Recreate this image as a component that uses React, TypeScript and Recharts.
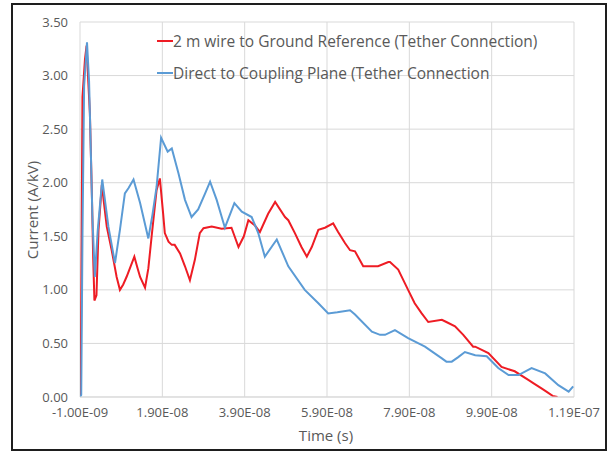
import { LineChart, Line, XAxis, YAxis, CartesianGrid, Legend } from "recharts";

// time in ns, current in A/kV
const redTime = [
  -1, -0.8, -0.4, 0.2, 0.6, 1.0, 1.4, 1.9, 2.2, 2.5, 3.0, 3.5, 4.3, 5.5, 6.7, 7.9, 8.7,
  9.5, 10.3, 11.3, 12.2, 13.0, 13.6, 14.8, 15.6, 16.4, 17.6, 18.4, 19.2, 19.6, 20.5, 21.3,
  22.0, 23.3, 24.5, 25.7, 26.9, 28.1, 29.0, 31.0, 33.4, 35.8, 37.5, 38.8, 39.9, 41.5, 42.7,
  44.7, 46.4, 48.8, 49.6, 51.2, 52.8, 54.1, 55.3, 56.9, 58.5, 60.5, 61.7, 63.4, 64.6, 65.8,
  67.8, 71.4, 73.9, 74.3, 76.3, 78.7, 80.3, 82.0, 83.6, 86.9, 88.0, 90.1, 92.1, 94.5, 95.0,
  98.2, 101.4, 104.6, 107.9, 109.1, 111.1, 112.3, 113.8, 115.0,
];
const redCurrent = [
  0.0, 0.28, 2.8, 3.15, 3.28, 2.95, 2.65, 1.87, 1.3, 0.9, 0.95, 1.56, 1.98, 1.59, 1.37, 1.12, 1.0,
  1.05, 1.12, 1.22, 1.31, 1.2, 1.12, 1.02, 1.2, 1.5, 1.93, 2.04, 1.71, 1.53, 1.45, 1.42,
  1.42, 1.34, 1.22, 1.09, 1.28, 1.53, 1.575, 1.59, 1.57, 1.58, 1.4, 1.5, 1.65, 1.6, 1.54,
  1.71, 1.82, 1.68, 1.65, 1.53, 1.4, 1.31, 1.4, 1.56, 1.58, 1.62, 1.54, 1.435, 1.37, 1.36,
  1.22, 1.22, 1.26, 1.26, 1.19, 1.0, 0.875, 0.78, 0.7, 0.72, 0.7, 0.66, 0.58, 0.47, 0.47,
  0.41, 0.28, 0.24, 0.16, 0.13, 0.08, 0.05, 0.01, 0.0,
];

const blueTime = [
  -1, -0.7, -0.4, 0.0, 0.7, 1.2, 1.5, 2.0, 2.6, 3.3, 4.4, 5.9, 7.5, 8.7, 9.9, 10.8, 12.0,
  13.6, 15.6, 16.6, 17.6, 18.7, 20.3, 21.3, 22.9, 24.5, 26.1, 27.7, 29.4, 30.6, 32.2, 34.2,
  36.5, 38.3, 40.7, 42.3, 43.9, 46.8, 49.6, 53.6, 56.9, 59.3, 61.5, 64.6, 65.8, 69.9, 71.9,
  73.1, 75.5, 78.7, 82.8, 86.9, 88.0, 89.3, 90.8, 92.5, 95.0, 97.8, 100.6, 103.1, 105.5,
  108.7, 112.0, 115.2, 117.7, 118.8,
];
const blueCurrent = [
  0.0, 0.02, 1.5, 2.9, 3.31, 2.95, 2.5, 1.7, 1.12, 1.55, 2.03, 1.59, 1.25, 1.56, 1.9, 1.95, 2.03,
  1.81, 1.48, 1.7, 1.96, 2.42, 2.29, 2.32, 2.09, 1.84, 1.68, 1.75, 1.9, 2.01, 1.84, 1.58,
  1.81, 1.73, 1.68, 1.53, 1.31, 1.47, 1.22, 1.0, 0.875, 0.78, 0.79, 0.81, 0.77, 0.61, 0.58,
  0.58, 0.625, 0.55, 0.47, 0.36, 0.33, 0.33, 0.37, 0.42, 0.39, 0.38, 0.27, 0.205, 0.205,
  0.27, 0.22, 0.11, 0.05, 0.1,
];

const xTicks = [-1, 19, 39, 59, 79, 99, 119];
const yTicks = [0, 0.5, 1, 1.5, 2, 2.5, 3, 3.5];

const redData = redTime.map((t, i) => ({ t, v: redCurrent[i] }));
const blueData = blueTime.map((t, i) => ({ t, v: blueCurrent[i] }));

const RED = "#ee1c24";
const BLUE = "#5b9bd5";
const TEXT = "#595959";
const FONT = "'Open Sans', sans-serif";

const series = [
  { name: "2 m wire to Ground Reference (Tether Connection)", color: RED },
  { name: "Direct to Coupling Plane (Tether Connection", color: BLUE },
];

function sci(ns: number) {
  const [m, e] = (ns * 1e-9).toExponential(2).toUpperCase().split("E");
  const sign = e.startsWith("-") ? "-" : "+";
  return `${m}E${sign}${e.replace(/[+-]/, "").padStart(2, "0")}`;
}

export default function App() {
  return (
    <div style={{ position: "absolute", left: 0, top: 0, width: 614, height: 452, background: "#fff", overflow: "hidden", fontFamily: FONT }}>
      <div
        style={{
          position: "absolute",
          left: 11,
          top: 3,
          width: 596,
          height: 448,
          border: "2px solid #1e1e1e",
          boxSizing: "border-box",
        }}
      />
      <div style={{ position: "absolute", left: 0, top: 0 }}>
        <LineChart width={614} height={452} margin={{ top: 22, right: 40, left: 20, bottom: 25 }}>
          <CartesianGrid stroke="#d9d9d9" />
          <XAxis
            type="number"
            dataKey="t"
            domain={[-1, 119]}
            ticks={xTicks}
            tickFormatter={sci}
            height={30}
            tickLine={false}
            tickSize={0}
            tickMargin={11}
            axisLine={{ stroke: "#d9d9d9" }}
            tick={{ fill: TEXT, fontSize: 13, fontFamily: FONT }}
            allowDataOverflow
          />
          <YAxis
            type="number"
            domain={[0, 3.5]}
            ticks={yTicks}
            tickFormatter={(v) => v.toFixed(2)}
            width={60}
            tickLine={false}
            axisLine={false}
            tickSize={0}
            tickMargin={12}
            tick={{ fill: TEXT, fontSize: 13, fontFamily: FONT }}
            allowDataOverflow
          />
          <Legend
            layout="horizontal"
            verticalAlign="middle"
            align="center"
            wrapperStyle={{ left: 157, top: 25, width: 440 }}
            content={() => (
              <div style={{ fontFamily: FONT, fontSize: 15.5, color: TEXT }}>
                {series.map((s) => (
                  <div key={s.name} style={{ display: "flex", alignItems: "center", height: 32 }}>
                    <span style={{ display: "inline-block", width: 16, height: 2, background: s.color }} />
                    <span>{s.name}</span>
                  </div>
                ))}
              </div>
            )}
          />
          <Line
            data={redData}
            dataKey="v"
            name={series[0].name}
            stroke={RED}
            strokeWidth={2}
            dot={false}
            type="linear"
            isAnimationActive={false}
          />
          <Line
            data={blueData}
            dataKey="v"
            name={series[1].name}
            stroke={BLUE}
            strokeWidth={2}
            dot={false}
            type="linear"
            isAnimationActive={false}
          />
        </LineChart>
      </div>
      <div style={{ position: "absolute", left: 326, top: 435, transform: "translate(-50%, -50%)", fontSize: 15, lineHeight: "16px", color: TEXT, whiteSpace: "nowrap" }}>
        Time (s)
      </div>
      <div
        style={{
          position: "absolute",
          left: 32,
          top: 210,
          transform: "translate(-50%, -50%) rotate(-90deg)",
          fontSize: 15,
          color: TEXT,
          whiteSpace: "nowrap",
        }}
      >
        Current (A/kV)
      </div>
    </div>
  );
}
